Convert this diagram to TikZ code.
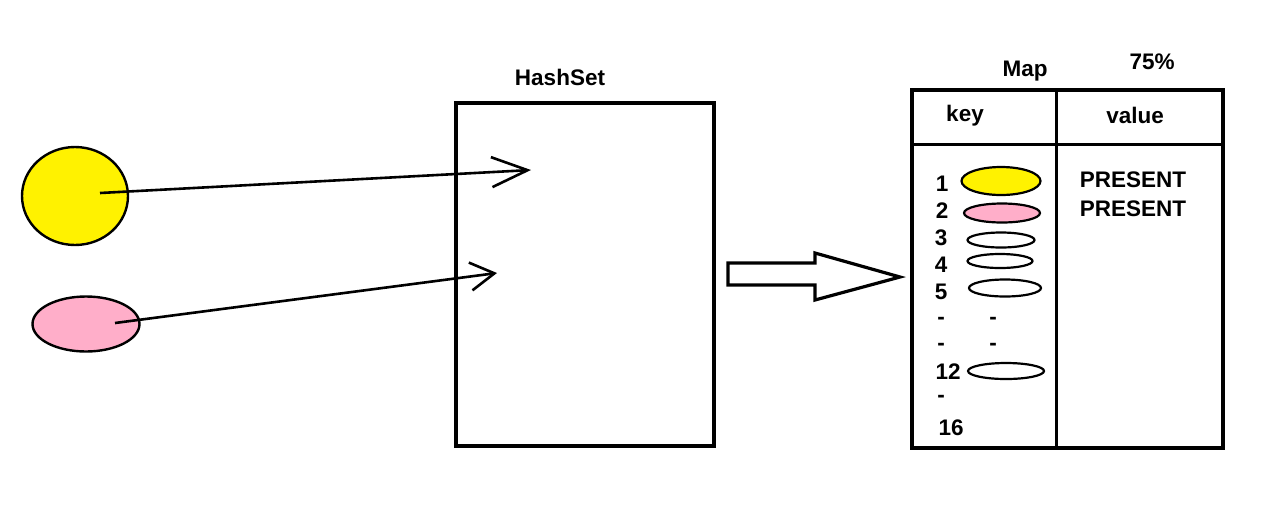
\documentclass[tikz,border=0pt]{standalone}
\usepackage{fontspec}
\setmainfont{Liberation Sans}
\usetikzlibrary{shapes.geometric,arrows.meta}
\definecolor{ylw}{HTML}{FFF200}
\definecolor{pnk}{HTML}{FFAEC9}
\tikzset{
  lbl/.style={font=\bfseries\fontsize{22.5}{22.5}\selectfont, inner sep=0pt},
  blob/.style={ellipse, draw, line width=2.4pt, inner sep=0pt},
  slot/.style={ellipse, draw, line width=2.2pt, inner sep=0pt, fill=white},
  ptr/.style={line width=2.6pt},
  frame/.style={line width=3.5pt},
}
\begin{document}
\begin{tikzpicture}[x=1pt,y=-1pt]
\useasboundingbox[fill=white] (0,0) rectangle (1265,504);
% left objects
\node[blob, fill=ylw, minimum width=106pt, minimum height=98pt] (yc) at (75,196) {};
\node[blob, fill=pnk, minimum width=107pt, minimum height=55pt] (pc) at (86,324) {};
\coordinate (ys) at (100,193);
\coordinate (ps) at (115,323);
% hashset
\node[draw, frame, line width=4pt, minimum width=258pt, minimum height=343pt, inner sep=0pt] (hs) at (585,274.5) {};
\node[lbl] (hsl) at (560,77) {HashSet};
\coordinate (t1) at (531,170);
\coordinate (t2) at (497,273);
\draw[ptr, -{Straight Barb[length=36pt,width=30pt,line width=2.6pt]}] (ys) -- (t1);
\draw[ptr, -{Straight Barb[length=24pt,width=28pt,line width=2.6pt]}] (ps) -- (t2);
% big hollow arrow
\draw[line width=3.2pt, line join=miter] (728,263) -- (815,263) -- (815,253) -- (900,277) -- (815,300) -- (815,285) -- (728,285) -- cycle;
% map table
\node[draw, frame, minimum width=311pt, minimum height=358pt, inner sep=0pt] (tab) at (1067.5,269) {};
\coordinate (dtop) at (1056,90);
\coordinate (dbot) at (1056,448);
\coordinate (hl) at (912,144);
\coordinate (hr) at (1223,144);
\draw[frame, line width=3pt] (dtop) -- (dbot);
\draw[frame, line width=3pt] (hl) -- (hr);
\node[lbl] (mapl) at (1025,71) {Map};
\node[lbl] (pct) at (1152,62) {75\%};
\node[lbl] (keyl) at (965,116) {key};
\node[lbl] (vall) at (1135,115) {value};
% keys
\node[lbl] (k1) at (942,184) {1};
\node[lbl] (k2) at (942,211) {2};
\node[lbl] (k3) at (941,238) {3};
\node[lbl] (k4) at (941,265) {4};
\node[lbl] (k5) at (941,292) {5};
\node[lbl] (d1) at (941,321) {-};
\node[lbl] (d2) at (941,347) {-};
\node[lbl] (k12) at (948,372) {12};
\node[lbl] (d3) at (941,399) {-};
\node[lbl] (k16) at (951,428) {16};
\node[lbl] (e1) at (993,321) {-};
\node[lbl] (e2) at (993,347) {-};
% slots
\node[slot, fill=ylw, minimum width=79pt, minimum height=28pt] (s1) at (1001,181) {};
\node[slot, fill=pnk, minimum width=76pt, minimum height=19pt] (s2) at (1002,213) {};
\node[slot, minimum width=67pt, minimum height=15pt] (s3) at (1001,240) {};
\node[slot, minimum width=65pt, minimum height=14pt] (s4) at (1000,261) {};
\node[slot, minimum width=72pt, minimum height=17pt] (s5) at (1005,288) {};
\node[slot, minimum width=76pt, minimum height=16pt] (s12) at (1006,371) {};
% values
\node[lbl] (v1) at (1133,180) {PRESENT};
\node[lbl] (v2) at (1133,209) {PRESENT};
\end{tikzpicture}
\end{document}
